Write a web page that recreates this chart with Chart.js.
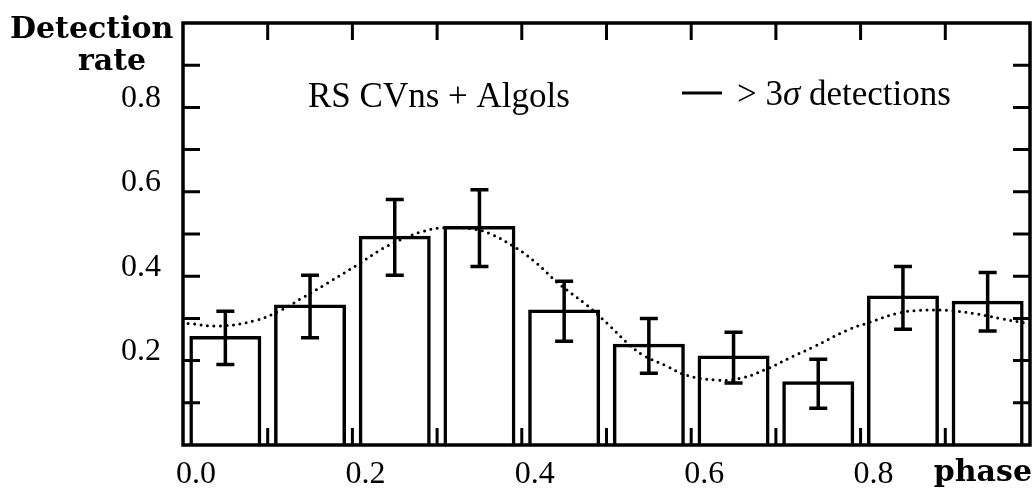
<!DOCTYPE html>
<html>
<head>
<meta charset="utf-8">
<script src="https://cdn.jsdelivr.net/npm/chart.js@4/dist/chart.umd.min.js"></script>
<style>
  html, body { margin: 0; padding: 0; background: #fff; }
  #wrap { width: 1034px; height: 488px; }
</style>
</head>
<body>
<div id="wrap"><canvas id="myChart" width="1034" height="488"></canvas></div>
<script>
// binned detection rate (histogram bars) with error bars
const binPhase = [0.05, 0.15, 0.25, 0.35, 0.45, 0.55, 0.65, 0.75, 0.85, 0.95];
const binRate = [0.258, 0.333, 0.496, 0.519, 0.321, 0.240, 0.212, 0.151, 0.354, 0.342];
const errLow = [0.191, 0.254, 0.402, 0.423, 0.246, 0.170, 0.147, 0.087, 0.274, 0.270];
const errHigh = [0.317, 0.402, 0.582, 0.605, 0.388, 0.300, 0.267, 0.203, 0.423, 0.409];

// dotted smooth curve
const curvePhase = [0.006, 0.044, 0.087, 0.115, 0.142, 0.170, 0.205, 0.236, 0.260, 0.283, 0.307, 0.339,
  0.362, 0.394, 0.418, 0.442, 0.477, 0.501, 0.524, 0.543, 0.571, 0.595, 0.630, 0.658, 0.689, 0.720,
  0.744, 0.784, 0.811, 0.843, 0.870, 0.902, 0.933, 0.965, 0.996];
const curveRate = [0.288, 0.282, 0.296, 0.319, 0.350, 0.383, 0.426, 0.466, 0.489, 0.506, 0.515, 0.513,
  0.501, 0.466, 0.430, 0.385, 0.331, 0.288, 0.243, 0.213, 0.187, 0.165, 0.154, 0.158, 0.180, 0.210,
  0.232, 0.272, 0.291, 0.312, 0.319, 0.319, 0.312, 0.300, 0.288];

const xTickLabels = ['0.0', '0.2', '0.4', '0.6', '0.8'];
const yTickLabels = ['0.2', '0.4', '0.6', '0.8'];

const TICK_FONT = { family: 'Liberation Serif', size: 32 };

const errorBars = {
  id: 'errorBars',
  afterDatasetsDraw(chart) {
    const { ctx, scales: { x, y } } = chart;
    ctx.save();
    ctx.strokeStyle = '#000';
    ctx.lineWidth = 3.5;
    binPhase.forEach((p, i) => {
      const px = x.getPixelForValue(p);
      const lo = y.getPixelForValue(errLow[i]);
      const hi = y.getPixelForValue(errHigh[i]);
      ctx.beginPath();
      ctx.moveTo(px, lo); ctx.lineTo(px, hi);
      ctx.moveTo(px - 9, lo); ctx.lineTo(px + 9, lo);
      ctx.moveTo(px - 9, hi); ctx.lineTo(px + 9, hi);
      ctx.stroke();
    });
    ctx.restore();
  }
};

// frame on four sides, ticks pointing inward
const frameTicks = {
  id: 'frameTicks',
  afterDraw(chart) {
    const { ctx, chartArea: a, scales: { x, y } } = chart;
    const len = 17;
    ctx.save();
    ctx.strokeStyle = '#000';
    ctx.lineWidth = 3.5;
    ctx.strokeRect(a.left, a.top, a.right - a.left, a.bottom - a.top);
    ctx.lineWidth = 3;
    ctx.beginPath();
    x.ticks.forEach(t => {
      if (t.value <= 0 || t.value >= 1) return;
      const px = x.getPixelForValue(t.value);
      ctx.moveTo(px, a.bottom); ctx.lineTo(px, a.bottom - len);
      ctx.moveTo(px, a.top); ctx.lineTo(px, a.top + len);
    });
    y.ticks.forEach(t => {
      if (t.value <= 0 || t.value >= 1) return;
      const py = y.getPixelForValue(t.value);
      ctx.moveTo(a.left, py); ctx.lineTo(a.left + len, py);
      ctx.moveTo(a.right, py); ctx.lineTo(a.right - len, py);
    });
    ctx.stroke();
    ctx.restore();
  }
};

const texts = {
  id: 'texts',
  afterDraw(chart) {
    const { ctx } = chart;
    ctx.save();
    ctx.fillStyle = '#000';
    ctx.textBaseline = 'alphabetic';
    ctx.font = 'bold 30px "DejaVu Serif"';
    ctx.textAlign = 'left';
    ctx.fillText('Detection', 10, 38);
    ctx.textAlign = 'center';
    ctx.fillText('rate', 112, 70);
    ctx.textAlign = 'right';
    ctx.fillText('phase', 1032, 481);

    ctx.textAlign = 'left';
    ctx.font = '35px "Liberation Serif"';
    ctx.fillText('RS CVns + Algols', 308, 107);

    ctx.lineWidth = 3;
    ctx.beginPath();
    ctx.moveTo(682, 93); ctx.lineTo(722, 93);
    ctx.stroke();
    let tx = 737;
    ctx.fillText('> 3', tx, 105);
    tx += ctx.measureText('> 3').width;
    ctx.font = 'italic 35px "Liberation Serif"';
    ctx.fillText('σ', tx, 105);
    tx += ctx.measureText('σ').width;
    ctx.font = '35px "Liberation Serif"';
    ctx.fillText(' detections', tx, 105);
    ctx.restore();
  }
};

const chart = new Chart(document.getElementById('myChart'), {
  data: {
    datasets: [
      {
        type: 'bar',
        data: binPhase.map((p, i) => ({ x: p, y: binRate[i] })),
        backgroundColor: 'rgba(0,0,0,0)',
        borderColor: '#000',
        borderWidth: 3.5,
        borderSkipped: 'start',
        categoryPercentage: 1,
        barPercentage: 0.85
      },
      {
        type: 'line',
        data: curvePhase.map((p, i) => ({ x: p, y: curveRate[i] })),
        borderColor: '#000',
        borderWidth: 3,
        borderDash: [0, 6.5],
        borderCapStyle: 'round',
        pointRadius: 0,
        tension: 0.4,
        fill: false
      }
    ]
  },
  options: {
    responsive: false,
    animation: false,
    events: [],
    layout: { padding: { top: 23, right: 4, left: 0, bottom: 0 } },
    plugins: { legend: { display: false }, tooltip: { enabled: false } },
    scales: {
      x: {
        type: 'linear',
        min: 0,
        max: 1,
        offset: false,
        grid: { display: false, drawTicks: false, offset: false },
        border: { display: false },
        afterFit: s => { s.height = 43; s.paddingLeft = 0; s.paddingRight = 0; },
        ticks: {
          stepSize: 0.1,
          autoSkip: false,
          maxRotation: 0,
          padding: 10,
          labelOffset: 13,
          color: '#000',
          font: TICK_FONT,
          callback: v => {
            const s = v.toFixed(1);
            return xTickLabels.includes(s) ? s : '';
          }
        }
      },
      y: {
        min: 0,
        max: 1,
        grid: { display: false, drawTicks: false },
        border: { display: false },
        afterFit: s => { s.width = 183; s.paddingTop = 0; s.paddingBottom = 0; },
        ticks: {
          stepSize: 0.1,
          autoSkip: false,
          padding: 22,
          labelOffset: -9,
          color: '#000',
          font: TICK_FONT,
          callback: v => {
            const s = v.toFixed(1);
            return yTickLabels.includes(s) ? s : '';
          }
        }
      }
    }
  },
  plugins: [errorBars, frameTicks, texts]
});
</script>
</body>
</html>
